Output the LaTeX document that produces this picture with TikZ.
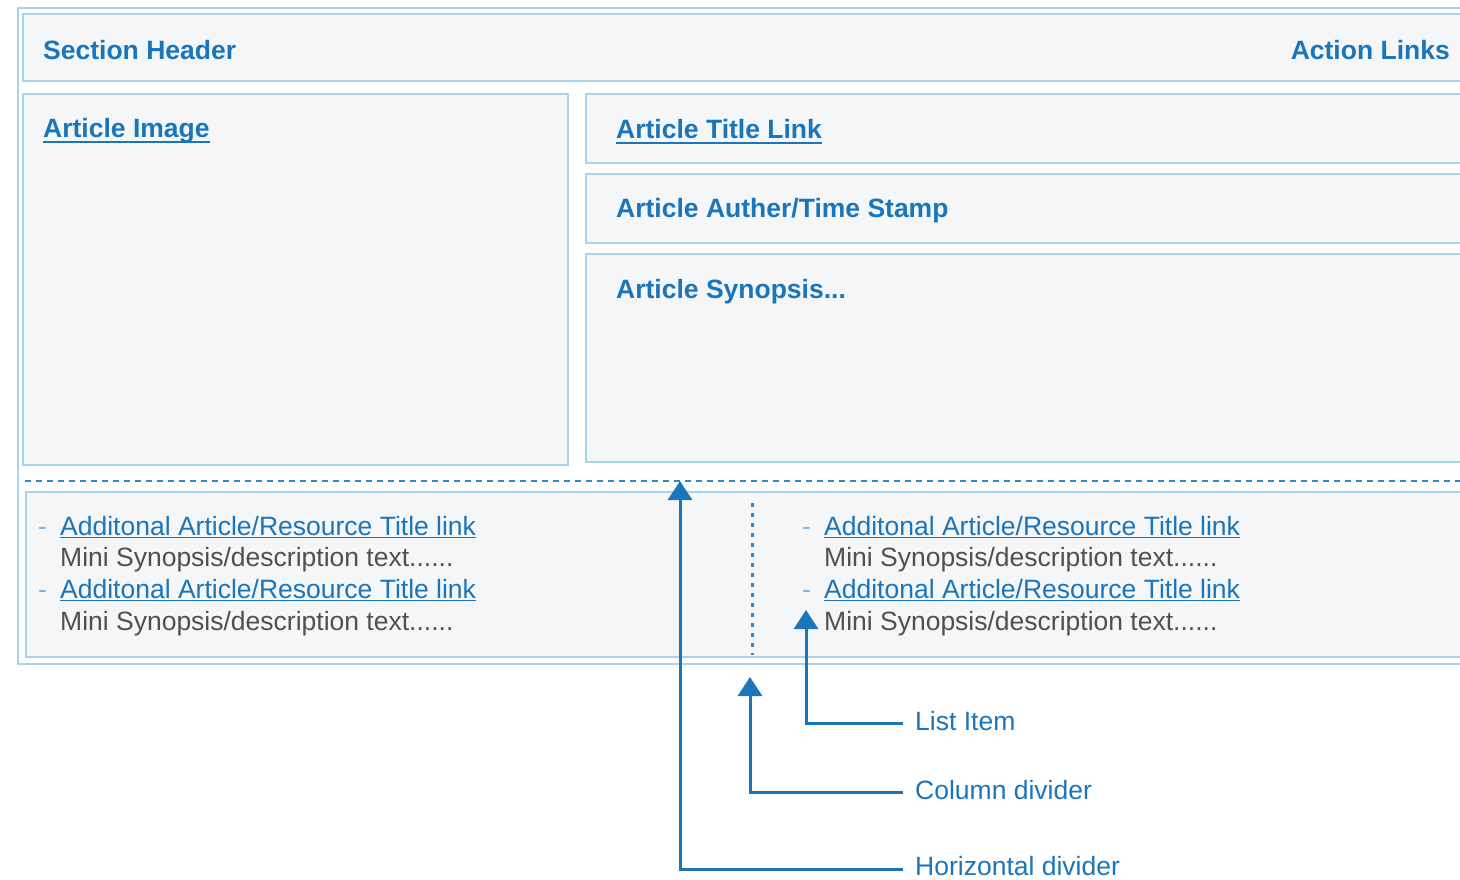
\documentclass[tikz,border=0pt]{standalone}
\usepackage{fontspec}
\setmainfont{Liberation Sans}
\usetikzlibrary{arrows.meta}
\definecolor{tblue}{HTML}{1B75BB}
\definecolor{lblue}{HTML}{A9D3EC}
\definecolor{boxfill}{HTML}{F4F6F8}
\definecolor{tgray}{HTML}{505050}
\definecolor{dblue}{HTML}{2F88C8}
\definecolor{bulblue}{HTML}{7AB6E0}
\newcommand\ulbold[1]{\setbox0\hbox{#1}\rlap{\color{tblue}\rule[-5.5pt]{\wd0}{2.4pt}}\box0}
\newcommand\ullink[1]{\setbox0\hbox{#1}\rlap{\color{tblue}\rule[-3.4pt]{\wd0}{1.8pt}}\box0}
\begin{document}
\begin{tikzpicture}[x=1pt,y=-1pt,
  panel/.style={draw=lblue,line width=2.4pt,fill=boxfill},
  head/.style={font=\fontsize{26.5}{30}\selectfont\bfseries,text=tblue,inner sep=0pt,anchor=base west},
  lnk/.style={font=\fontsize{26.5}{30}\selectfont,text=tblue,inner sep=0pt,anchor=base west},
  desc/.style={font=\fontsize{26.5}{30}\selectfont,text=tgray,inner sep=0pt,anchor=base west},
  bul/.style={font=\fontsize{26.5}{30}\selectfont,text=bulblue,inner sep=0pt,anchor=base west},
  conn/.style={draw=tblue,line width=3pt,-{Triangle[width=24pt,length=19pt]}},
]
\useasboundingbox (0,0) rectangle (1460,880);
\clip (0,0) rectangle (1460,880);
% frames
\draw[draw=lblue,line width=2.4pt,fill=white] (18,8) rectangle (1480,664);
\draw[panel] (23,14) rectangle (1480,81);
\draw[panel] (23,94) rectangle (568,465);
\draw[panel] (586,94) rectangle (1480,163);
\draw[panel] (586,174) rectangle (1480,243);
\draw[panel] (586,254) rectangle (1480,462);
\draw[dblue,line width=2.6pt,dash pattern=on 6pt off 5pt] (25,481) -- (1480,481);
\draw[panel] (26,492) rectangle (1480,657);
\draw[dblue,line width=3pt,dash pattern=on 4pt off 6pt] (752,503) -- (752,655);
% headings
\node[head] (sec) at (43,60) {Section Header};
\node[head,anchor=base east] (act) at (1450,60) {Action Links};
\node[head] (img) at (43,138) {\ulbold{Article Image}};
\node[head] (ttl) at (616,139) {\ulbold{Article Title Link}};
\node[head] (aut) at (616,218) {Article Auther/Time Stamp};
\node[head] (syn) at (616,298) {Article Synopsis...};
% left list
\node[bul] (lb1) at (38,535) {-};
\node[lnk] (ll1) at (60,535) {\ullink{Additonal Article/Resource Title link}};
\node[desc] (ld1) at (60,566) {Mini Synopsis/description text......};
\node[bul] (lb2) at (38,598) {-};
\node[lnk] (ll2) at (60,598) {\ullink{Additonal Article/Resource Title link}};
\node[desc] (ld2) at (60,630) {Mini Synopsis/description text......};
% right list
\node[bul] (rb1) at (802,535) {-};
\node[lnk] (rl1) at (824,535) {\ullink{Additonal Article/Resource Title link}};
\node[desc] (rd1) at (824,566) {Mini Synopsis/description text......};
\node[bul] (rb2) at (802,598) {-};
\node[lnk] (rl2) at (824,598) {\ullink{Additonal Article/Resource Title link}};
\node[desc] (rd2) at (824,630) {Mini Synopsis/description text......};
% legend labels
\node[lnk] (lab1) at (915,730) {List Item};
\node[lnk] (lab2) at (915,799) {Column divider};
\node[lnk] (lab3) at (915,875) {Horizontal divider};
% connectors
\coordinate (tip1) at (806,610);
\coordinate (end1) at (903,723);
\coordinate (tip2) at (750,677);
\coordinate (end2) at (903,792);
\coordinate (tip3) at (680,481);
\coordinate (end3) at (903,869);
\draw[conn] (end1) -| (tip1);
\draw[conn] (end2) -| (tip2);
\draw[conn] (end3) -| (tip3);
\end{tikzpicture}
\end{document}
